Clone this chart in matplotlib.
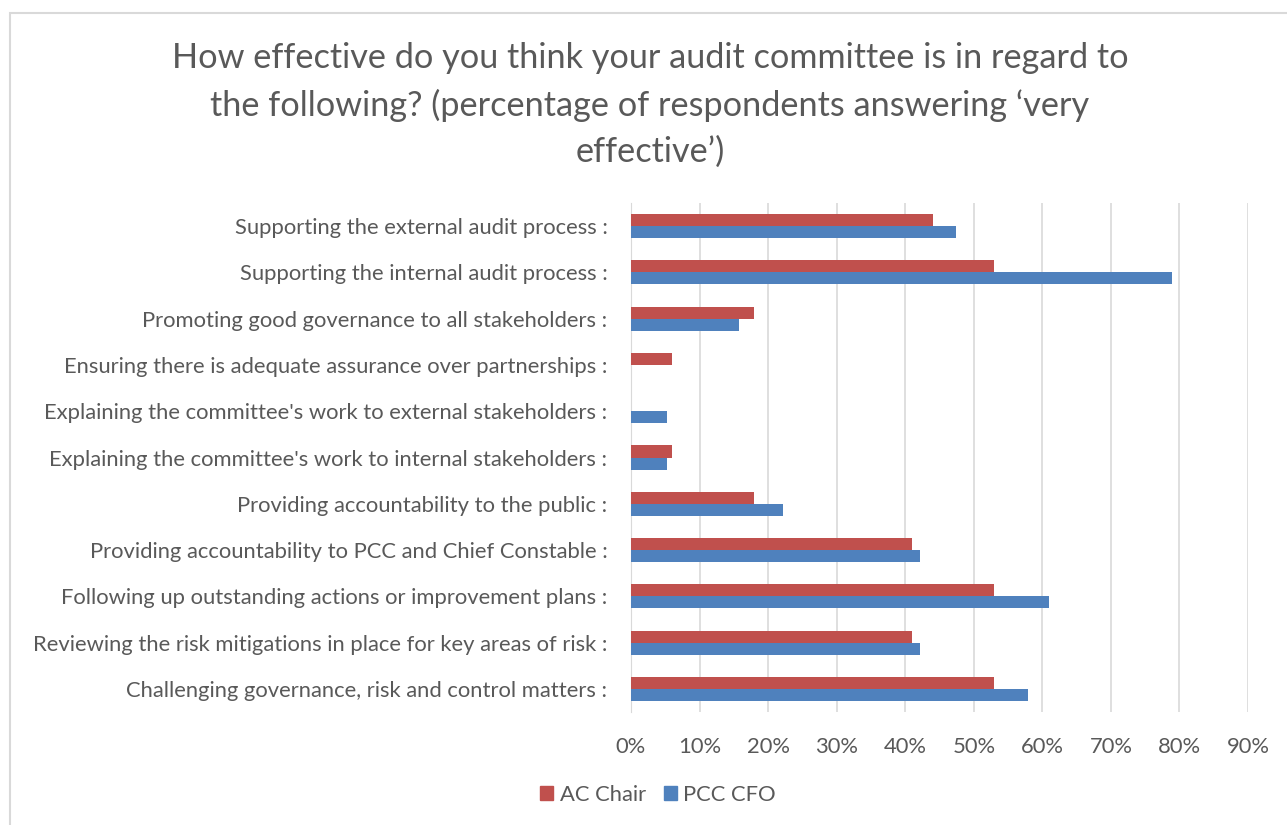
import matplotlib.pyplot as plt
import matplotlib.patches as mpatches
import numpy as np

plt.rcParams['font.family'] = ['Lato', 'DejaVu Sans']

# categories, top to bottom as shown in the chart
categories = [
    "Supporting the external audit process :",
    "Supporting the internal audit process :",
    "Promoting good governance to all stakeholders :",
    "Ensuring there is adequate assurance over partnerships :",
    "Explaining the committee's work to external stakeholders :",
    "Explaining the committee's work to internal stakeholders :",
    "Providing accountability to the public :",
    "Providing accountability to PCC and Chief Constable :",
    "Following up outstanding actions or improvement plans :",
    "Reviewing the risk mitigations in place for key areas of risk :",
    "Challenging governance, risk and control matters :",
]
ac_chair = [44, 53, 18, 6, 0, 6, 18, 41, 53, 41, 53]
pcc_cfo = [47.4, 78.9, 15.8, 0, 5.3, 5.3, 22.1, 42.1, 61, 42.1, 57.9]

red = '#C0504D'
blue = '#4F81BD'
grey_text = '#595959'

fig = plt.figure(figsize=(12.87, 8.25), dpi=100)
ax = fig.add_axes([631 / 1287, 1 - 712 / 825, (1248 - 631) / 1287, (712 - 203) / 825])

n = len(categories)
y = np.arange(n)[::-1]
h = 0.26
ax.barh(y + h / 2, ac_chair, height=h, color=red, label='AC Chair', zorder=3)
ax.barh(y - h / 2, pcc_cfo, height=h, color=blue, label='PCC CFO', zorder=3)

ax.set_xlim(0, 90)
ax.set_ylim(-0.5, n - 0.5)
ax.set_xticks(np.arange(0, 91, 10))
ax.set_xticklabels([f"{v}%" for v in range(0, 91, 10)])
ax.set_yticks(y)
ax.set_yticklabels(categories)
ax.tick_params(axis='both', length=0, colors=grey_text, labelsize=15.8)
ax.tick_params(axis='x', pad=18)
ax.tick_params(axis='y', pad=17)
ax.grid(axis='x', color='#D9D9D9', linewidth=1.2, zorder=0)
for s in ['top', 'right', 'bottom']:
    ax.spines[s].set_visible(False)
ax.spines['left'].set_color('#D9D9D9')

fig.text(650 / 1287, 1 - 105 / 825,
         "How effective do you think your audit committee is in regard to\n"
         "the following? (percentage of respondents answering \u2018very\n"
         "effective\u2019)",
         ha='center', va='center', fontsize=24.7, color=grey_text, linespacing=1.52)

handles = [mpatches.Patch(color=red, label='AC Chair'),
           mpatches.Patch(color=blue, label='PCC CFO')]
fig.legend(handles=handles, loc='center', bbox_to_anchor=(658 / 1287, 1 - 795 / 825),
           ncol=2, frameon=False, fontsize=15.8, labelcolor=grey_text,
           handlelength=0.6, handleheight=0.6, handletextpad=0.3, columnspacing=0.8)

# outer chart border
fig.patches.append(mpatches.Rectangle((10 / 1287, -0.01), 1.02, 1 - 13 / 825 + 0.01,
                                      transform=fig.transFigure, fill=False,
                                      edgecolor='#D9D9D9', linewidth=1.5))

fig.savefig('out.png', dpi=100)
